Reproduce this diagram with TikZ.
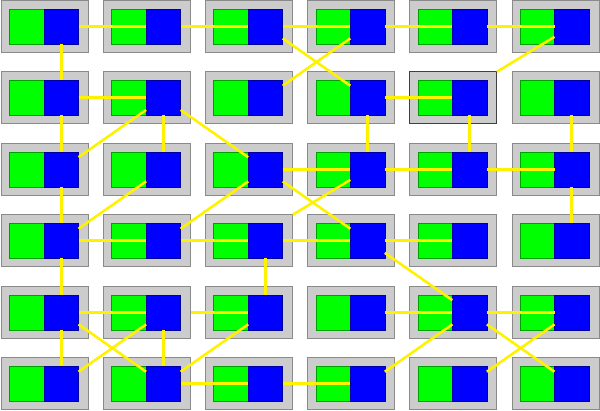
\documentclass[tikz,border=0pt]{standalone}
\usetikzlibrary{positioning}
\definecolor{cellgray}{HTML}{CCCCCC}
\definecolor{cellborder}{HTML}{8A8A8A}
\definecolor{lgreen}{HTML}{00FF00}
\definecolor{dgreen}{HTML}{00A000}
\definecolor{lblue}{HTML}{0000FF}
\definecolor{dblue}{HTML}{0000A0}
\definecolor{edgeyellow}{HTML}{FFF200}
\tikzset{
  cell/.style={rectangle, fill=cellgray, draw=cellborder, line width=0.9pt,
    minimum width=87pt, minimum height=52pt, inner sep=0pt, outer sep=0pt, anchor=north west},
  cell-2-5/.style={draw=black!75},
  gpart/.style={rectangle, fill=lgreen, draw=dgreen, line width=0.5pt,
    minimum width=34.5pt, minimum height=35pt, inner sep=0pt, outer sep=0pt, anchor=north west},
  bpart/.style={rectangle, fill=lblue, draw=dblue, line width=0.5pt,
    minimum width=34.5pt, minimum height=35pt, inner sep=0pt, outer sep=0pt, anchor=north west},
  link/.style={draw=edgeyellow, line width=2.6pt}
}
\begin{document}
\begin{tikzpicture}[x=1pt, y=-1pt]
\useasboundingbox (0,0) rectangle (600,411);
\foreach \r in {1,...,6} {
  \foreach \c in {1,...,6} {
    \pgfmathsetmacro\X{1.5+102.1*(\c-1)}
    \pgfmathsetmacro\Y{0.3+71.5*(\r-1)}
    \node[cell, cell-\r-\c/.try] (g-\r-\c) at (\X,\Y) {};
    \node[gpart] (gr-\r-\c) at (\X+8,\Y+8.5) {};
    \node[bpart] (b-\r-\c) at (\X+42.5,\Y+8.5) {};
  }
}
% row 1
\draw[link] (b-1-1) -- (b-1-2);
\draw[link] (b-1-2) -- (b-1-3);
\draw[link] (b-1-3) -- (b-1-4);
\draw[link] (b-1-4) -- (b-1-5);
\draw[link] (b-1-5) -- (b-1-6);
\draw[link] (b-1-1) -- (b-2-1);
\draw[link] (b-1-3) -- (b-2-4);
\draw[link] (b-1-4) -- (b-2-3);
\draw[link] (b-1-6) -- (g-2-5.north east);
% row 2
\draw[link] (b-2-1) -- (b-2-2);
\draw[link] (b-2-2) -- (b-3-1);
\draw[link] (b-2-2) -- (b-3-2);
\draw[link] (b-2-2) -- (b-3-3);
\draw[link] (b-2-1) -- (b-3-1);
\draw[link] (b-2-4) -- (b-2-5);
\draw[link] (b-2-4) -- (b-3-4);
\draw[link] (b-2-5) -- (b-3-5);
\draw[link] (b-2-6) -- (b-3-6);
% row 3
\draw[link] (b-3-1) -- (b-4-1);
\draw[link] (b-3-2) -- (b-4-1);
\draw[link] (b-3-3) -- (b-3-4);
\draw[link] (b-3-3) -- (b-4-2);
\draw[link] (b-3-3) -- (b-4-4);
\draw[link] (b-3-4) -- (g-4-3.north east);
\draw[link] (b-3-4) -- (b-3-5);
\draw[link] (b-3-5) -- (b-3-6);
\draw[link] (b-3-6) -- (b-4-6);
% row 4
\draw[link] (b-4-1) -- (b-4-2);
\draw[link] (b-4-2) -- (b-4-3);
\draw[link] (b-4-3) -- (b-4-4);
\draw[link] (b-4-4) -- (b-4-5);
\draw[link] (b-4-4) -- (b-5-5);
\draw[link] (b-4-1) -- (b-5-1);
\draw[link] (b-4-3) -- (b-5-3);
% row 5 and 6
\draw[link] (b-5-1) -- (b-5-2);
\draw[link] (g-5-2.east) -- (b-5-3);
\draw[link] (b-5-1) -- (b-6-1);
\draw[link] (b-5-1) -- (b-6-2);
\draw[link] (b-5-2) -- (b-6-1);
\draw[link] (b-5-2) -- (b-6-2);
\draw[link] (b-6-2) -- (b-5-3);
\draw[link] (b-6-2) -- (b-6-3);
\draw[link] (b-6-3) -- (b-6-4);
\draw[link] (b-6-4) -- (b-5-5);
\draw[link] (b-5-4) -- (b-5-5);
\draw[link] (b-5-5) -- (b-5-6);
\draw[link] (b-5-5) -- (b-6-6);
\draw[link] (b-5-6) -- (b-6-5);
\end{tikzpicture}
\end{document}
